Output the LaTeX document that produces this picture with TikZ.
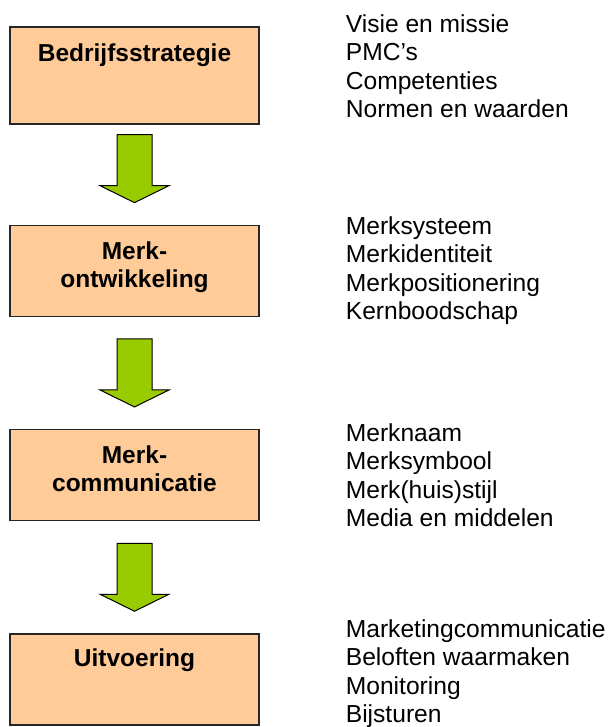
\documentclass[tikz,border=0pt]{standalone}
\usepackage{fontspec}
\setmainfont{Liberation Sans}
\usetikzlibrary{positioning}
\definecolor{stagefill}{HTML}{FFCC99}
\definecolor{arrowgreen}{HTML}{99CC00}

\begin{document}
\begin{tikzpicture}[
  node distance=112pt and 86pt,
  stage/.style={rectangle, draw=black!85, line width=1.3pt, fill=stagefill,
                minimum width=249pt, minimum height=91pt, inner sep=0pt},
  stagetitle/.style={anchor=north, align=center, inner sep=0pt,
                     font=\fontsize{24.5}{28}\selectfont\bfseries},
  topics/.style={align=left, inner sep=0pt,
                 font=\fontsize{24.6}{28.5}\selectfont},
  downarrow/.pic={\draw[fill=arrowgreen, line width=1pt, line join=miter]
    (-17.5pt,0) -- (17.5pt,0) -- (17.5pt,-51pt) -- (34.5pt,-51pt)
    -- (0,-68pt) -- (-34.5pt,-51pt) -- (-17.5pt,-51pt) -- cycle;}
]
\useasboundingbox (0,0) rectangle (612pt,-727pt);

% stages
\node[stage, minimum height=97pt] (B) at (134.5pt,-75.5pt) {};
\node[stage, below=100pt of B] (M) {};
\node[stage, below=of M] (C) {};
\node[stage, below=of C] (U) {};

\node[stagetitle, below=17pt of B.north] (Bt) {Bedrijfsstrategie};
\node[stagetitle, below=17pt of M.north] (Mt) {Merk-\\ontwikkeling};
\node[stagetitle, below=17pt of C.north] (Ct) {Merk-\\communicatie};
\node[stagetitle, below=15pt of U.north] (Ut) {Uitvoering};

% topics per stage
\node[topics, right=of B, yshift=9.5pt] (Bl) {Visie en missie\\PMC’s\\Competenties\\Normen en waarden};
\node[topics, right=of M] (Ml) {Merksysteem\\Merkidentiteit\\Merkpositionering\\Kernboodschap};
\node[topics, right=of C] (Cl) {Merknaam\\Merksymbool\\Merk(huis)stijl\\Media en middelen};
\node[topics, right=of U, yshift=6pt] (Ul) {Marketingcommunicatie\\Beloften waarmaken\\Monitoring\\Bijsturen};

% arrows between stages
\coordinate (a1) at ([yshift=90pt]M.north);
\coordinate (a2) at ([yshift=90pt]C.north);
\coordinate (a3) at ([yshift=90pt]U.north);
\pic at (a1) {downarrow};
\pic at (a2) {downarrow};
\pic at (a3) {downarrow};
\end{tikzpicture}
\end{document}
